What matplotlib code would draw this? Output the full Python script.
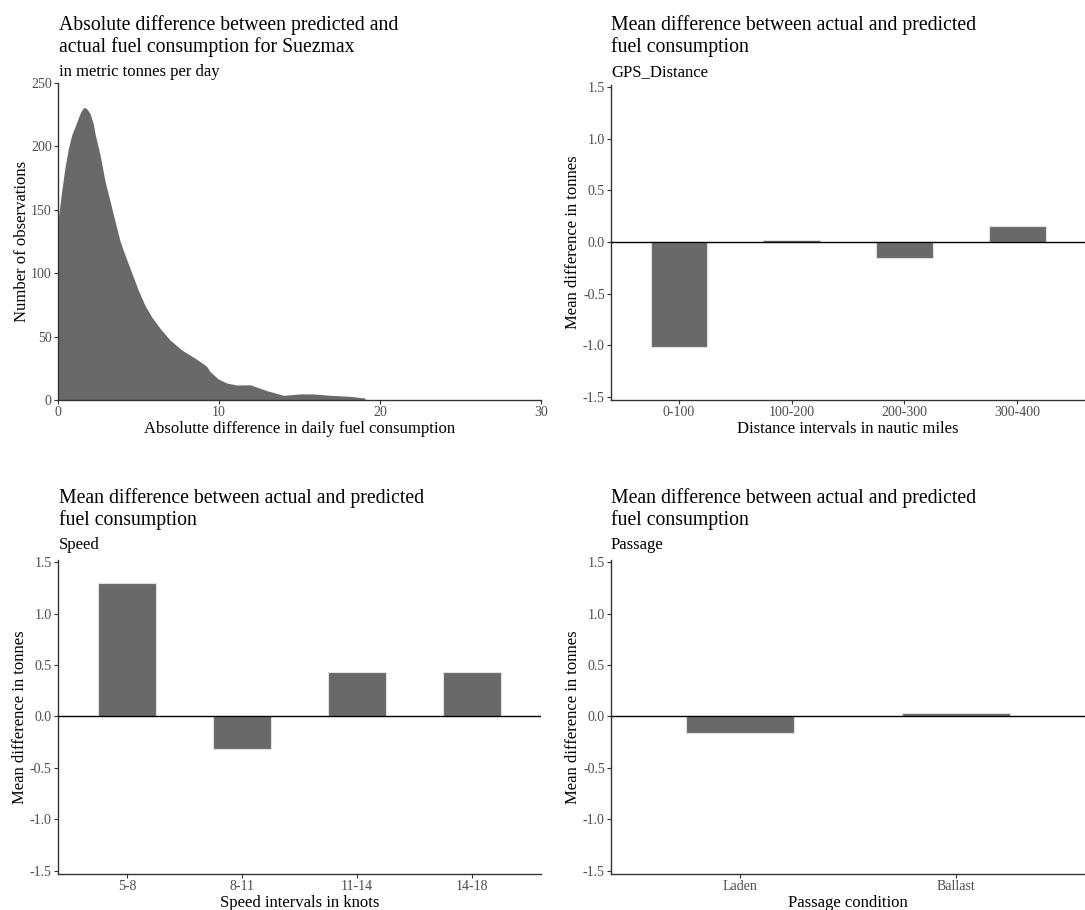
import numpy as np
import matplotlib
matplotlib.use("Agg")
import matplotlib.pyplot as plt

plt.rcParams['font.family'] = ['Liberation Serif', 'DejaVu Serif']

# density curve (x = absolute difference, y = count scale)
dens_x = [0.0, 0.23, 0.43, 0.64, 0.85, 1.06, 1.16, 1.37, 1.52, 1.64, 1.80, 1.99,
          2.19, 2.30, 2.61, 2.92, 3.23, 3.54, 3.85, 4.06, 4.37, 4.68, 4.99,
          5.40, 5.82, 6.34, 6.96, 7.68, 8.51, 9.03, 9.24, 9.44, 9.96, 10.48,
          11.10, 11.93, 12.34, 12.96, 14.0, 15.03, 15.86, 16.9, 18.14, 19.07, 19.07]
dens_y = [141, 165, 183, 198, 209, 215.5, 219, 226, 229.5, 230.8, 229.5, 226,
          218, 210, 193.5, 172.6, 157, 141, 125.6, 117.8, 107.3, 96.9, 86.5,
          74.7, 65.5, 56.5, 47.3, 39.5, 33, 28.5, 26.4, 22.5, 16.5, 13.4,
          11.8, 12, 10.2, 7.4, 3.7, 4.8, 4.8, 3.7, 2.9, 1.5, 0]

dist_cats = ['0-100', '100-200', '200-300', '300-400']
dist_vals = [-1.02, 0.02, -0.155, 0.15]

speed_cats = ['5-8', '8-11', '11-14', '14-18']
speed_vals = [1.30, -0.32, 0.43, 0.43]

pass_cats = ['Laden', 'Ballast']
pass_vals = [-0.165, 0.03]

W, H = 1085, 910
fig = plt.figure(figsize=(W / 100, H / 100), dpi=100)

bar_col = '#696969'
tick_col = '#4d4d4d'


def px_ax(l, t, r, b):
    return fig.add_axes([l / W, 1 - b / H, (r - l) / W, (b - t) / H])


def style(ax):
    for s in ['top', 'right']:
        ax.spines[s].set_visible(False)
    for s in ['left', 'bottom']:
        ax.spines[s].set_color('#333333')
        ax.spines[s].set_linewidth(1.0)
    ax.tick_params(colors='#333333', labelcolor=tick_col, labelsize=10, length=3, width=0.8, pad=1.5)


def titles(x, y, title, sub):
    # y = baseline of first title line, in pixels from top
    for i, line in enumerate(title.split('\n')):
        fig.text(x / W, 1 - (y + 22 * i) / H, line, fontsize=14.2, va='baseline', ha='left')
    fig.text(x / W, 1 - (y + 46) / H, sub, fontsize=12, va='baseline', ha='left')


def bar_panel(ax, cats, vals, xlabel):
    pos = np.arange(1, len(cats) + 1)
    ax.bar(pos, vals, width=0.5, color=bar_col, edgecolor='#e0e0e0', linewidth=0.8, zorder=2)
    ax.axhline(0, color='black', lw=1.0, zorder=3)
    ax.set_xlim(0.4, len(cats) + 0.6)
    ax.set_ylim(-1.53, 1.52)
    ax.set_yticks([-1.5, -1.0, -0.5, 0.0, 0.5, 1.0, 1.5])
    ax.set_yticklabels(['-1.5', '-1.0', '-0.5', '0.0', '0.5', '1.0', '1.5'])
    ax.set_xticks(pos)
    ax.set_xticklabels(cats)
    ax.set_xlabel(xlabel, fontsize=12, labelpad=1)
    ax.set_ylabel('Mean difference in tonnes', fontsize=12, labelpad=1)
    style(ax)


# top left: density
ax1 = px_ax(58, 83, 541, 400)
ax1.fill_between(dens_x, dens_y, 0, color=bar_col, lw=0)
ax1.set_xlim(0, 30)
ax1.set_ylim(0, 250)
ax1.set_xticks([0, 10, 20, 30])
ax1.set_yticks([0, 50, 100, 150, 200, 250])
ax1.set_xlabel('Absolutte difference in daily fuel consumption', fontsize=12, labelpad=1)
ax1.set_ylabel('Number of observations', fontsize=12, labelpad=1)
style(ax1)
titles(59, 30, 'Absolute difference between predicted and\nactual fuel consumption for Suezmax',
       'in metric tonnes per day')

# top right: distance
ax2 = px_ax(611, 85, 1085, 400)
bar_panel(ax2, dist_cats, dist_vals, 'Distance intervals in nautic miles')
titles(611, 30, 'Mean difference between actual and predicted\nfuel consumption', 'GPS_Distance')

# bottom left: speed
ax3 = px_ax(58, 560, 541, 874)
bar_panel(ax3, speed_cats, speed_vals, 'Speed intervals in knots')
titles(59, 503, 'Mean difference between actual and predicted\nfuel consumption', 'Speed')

# bottom right: passage
ax4 = px_ax(611, 560, 1085, 874)
bar_panel(ax4, pass_cats, pass_vals, 'Passage condition')
titles(611, 503, 'Mean difference between actual and predicted\nfuel consumption', 'Passage')

fig.savefig('out.png', dpi=100)
